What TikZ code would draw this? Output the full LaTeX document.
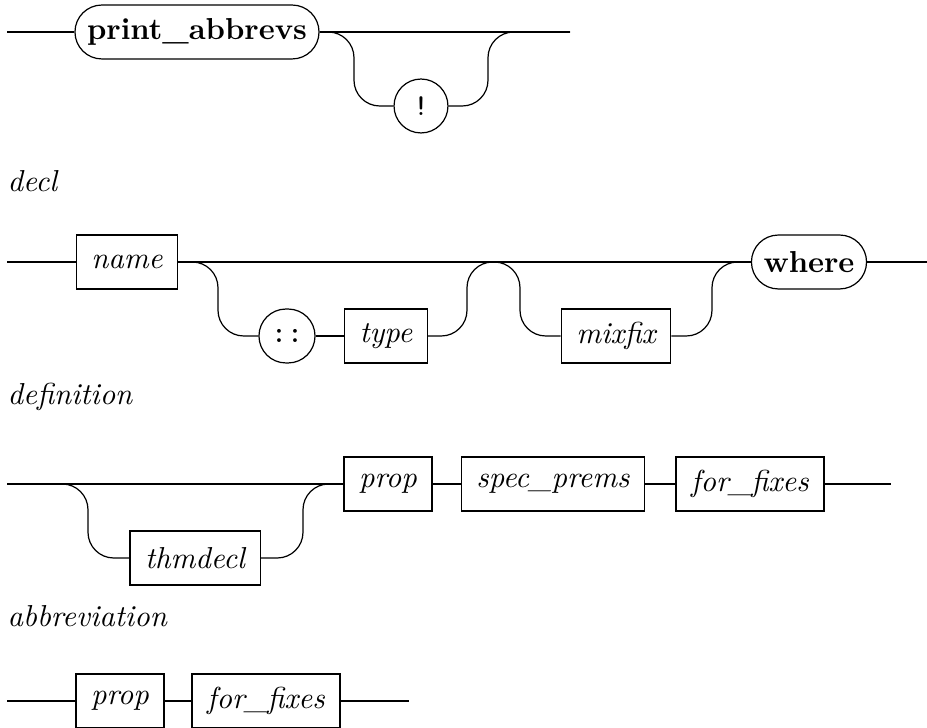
\documentclass[tikz,border=0pt]{standalone}
\usepackage{amsmath}

\begin{document}
\begin{tikzpicture}[x=0.33pt,y=-0.33pt,
  nonterm/.style={draw,rectangle,minimum height=17.8pt,inner xsep=5pt,font=\itshape},
  term/.style={draw,rectangle,rounded corners=8.9pt,minimum height=17.8pt,
    minimum width=17.8pt,inner xsep=4pt},
  rail/.style={rounded corners=8.5pt},
  title/.style={anchor=base west,inner sep=0pt,font=\itshape}]
		\useasboundingbox (0,0) rectangle (927,728);

		% print_abbrevs
		\node[term] (pa) at (197,32) {\bfseries print\_abbrevs};
		\node[term] (bang) at (421,106) {\ttfamily !};
		\coordinate (pa in) at (7,32);
		\coordinate (pa out) at (570,32);
		\draw (pa in) -- (pa.west);
		\draw (pa.east) -- (pa out);
		\draw[rail] (pa.east) -- (354,32) -- (354,106) -- (bang.west);
		\draw[rail] (bang.east) -- (488,106) -- (488,32) -- (pa out);

		% decl
		\node[title] (decl) at (7,192) {decl};
		\node[nonterm] (name) at (127,262) {name};
		\node[term] (colons) at (287,336) {\ttfamily ::};
		\node[nonterm] (type) at (386,336) {type};
		\node[nonterm] (mixfix) at (616,336) {mixfix};
		\node[term] (where) at (809,262) {\bfseries where};
		\coordinate (decl in) at (7,262);
		\coordinate (decl out) at (927,262);
		\draw (decl in) -- (name.west);
		\draw (name.east) -- (where.west);
		\draw (where.east) -- (decl out);
		\draw[rail] (name.east) -- (218,262) -- (218,336) -- (colons.west);
		\draw (colons.east) -- (type.west);
		\draw[rail] (type.east) -- (467,336) -- (467,262) -- (520,262)
		      -- (520,336) -- (mixfix.west);
		\draw[rail] (mixfix.east) -- (712,336) -- (712,262) -- (where.west);

		% definition
		\node[title] (definition) at (7,405) {definition};
		\node[nonterm] (thmdecl) at (195,558) {thmdecl};
		\node[nonterm] (prop) at (388,484) {prop};
		\node[nonterm] (specprems) at (553,484) {spec\_prems};
		\node[nonterm] (forfixes) at (750,484) {for\_fixes};
		\coordinate (def in) at (7,484);
		\coordinate (def out) at (891,484);
		\draw (def in) -- (prop.west);
		\draw[rail] (def in) -- (88,484) -- (88,558) -- (thmdecl.west);
		\draw[rail] (thmdecl.east) -- (303,558) -- (303,484) -- (prop.west);
		\draw (prop.east) -- (specprems.west);
		\draw (specprems.east) -- (forfixes.west);
		\draw (forfixes.east) -- (def out);

		% abbreviation
		\node[title] (abbreviation) at (7,627) {abbreviation};
		\node[nonterm] (prop2) at (120,701) {prop};
		\node[nonterm] (forfixes2) at (266,701) {for\_fixes};
		\coordinate (abbr in) at (7,701);
		\coordinate (abbr out) at (409,701);
		\draw (abbr in) -- (prop2.west);
		\draw (prop2.east) -- (forfixes2.west);
		\draw (forfixes2.east) -- (abbr out);

		\end{tikzpicture}
\end{document}
